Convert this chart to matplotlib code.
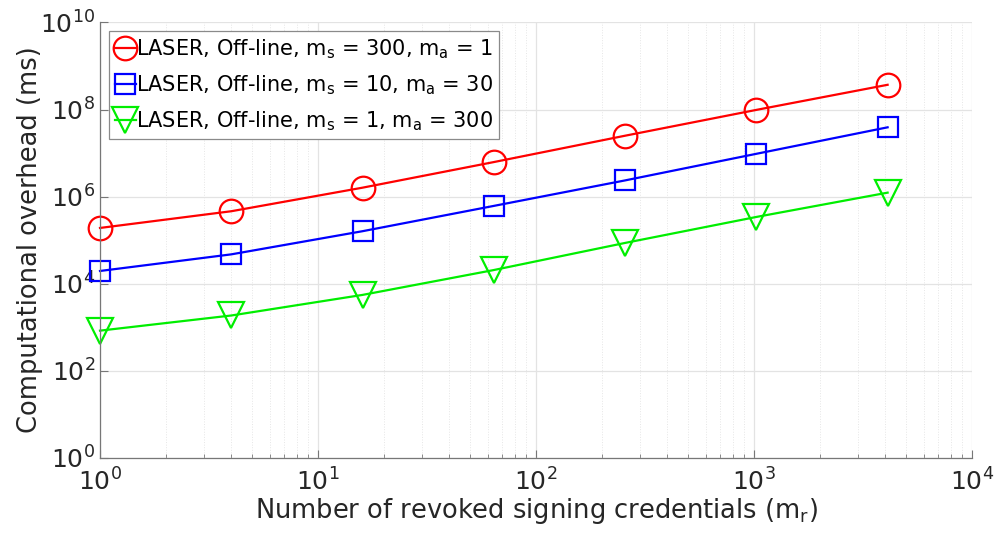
import matplotlib
matplotlib.use("Agg")
import matplotlib.pyplot as plt
from matplotlib.ticker import LogLocator, NullLocator

# revoked signing credentials (m_r)
m_r = [1, 4, 16, 64, 256, 1024, 4096]

# computational overhead (ms)
overhead_s300_a1 = [1.9e5, 4.6e5, 1.6e6, 6.2e6, 2.5e7, 9.8e7, 3.7e8]
overhead_s10_a30 = [1.95e4, 4.7e4, 1.6e5, 6.1e5, 2.35e6, 9.6e6, 3.9e7]
overhead_s1_a300 = [830, 1.85e3, 5.5e3, 2.05e4, 8.6e4, 3.4e5, 1.23e6]

labels = [
    r"LASER, Off-line, m$_\mathregular{s}$ = 300, m$_\mathregular{a}$ = 1",
    r"LASER, Off-line, m$_\mathregular{s}$ = 10, m$_\mathregular{a}$ = 30",
    r"LASER, Off-line, m$_\mathregular{s}$ = 1, m$_\mathregular{a}$ = 300",
]

plt.rcParams["font.family"] = ["DejaVu Sans"]
plt.rcParams["mathtext.default"] = "regular"

txt = "#262626"
fig = plt.figure(figsize=(9.94, 5.35), dpi=100)
ax = fig.add_axes([0.1006, 0.1445, 0.8774, 0.8135])

ax.plot(m_r, overhead_s300_a1, color="#ff0000", lw=1.6, marker="o", ms=17,
        mfc="none", mew=1.6, label=labels[0], clip_on=False)
ax.plot(m_r, overhead_s10_a30, color="#0000ff", lw=1.6, marker="s", ms=14,
        mfc="none", mew=1.6, label=labels[1], clip_on=False)
ax.plot(m_r, overhead_s1_a300, color="#00ee00", lw=1.6, marker="v", ms=19,
        mfc="none", mew=1.6, label=labels[2], clip_on=False)

ax.set_xscale("log")
ax.set_yscale("log")
ax.set_xlim(1, 1e4)
ax.set_ylim(1, 1e10)
ax.set_yticks([1e0, 1e2, 1e4, 1e6, 1e8, 1e10])
ax.yaxis.set_minor_locator(NullLocator())
ax.xaxis.set_minor_locator(LogLocator(base=10, subs=range(2, 10)))

ax.grid(True, which="major", color="#e3e3e3", lw=0.9)
ax.grid(True, which="minor", axis="x", color="#e6e6e6", lw=0.7, ls=":")
ax.set_axisbelow(True)

for side in ("top", "right"):
    ax.spines[side].set_visible(False)
for side in ("left", "bottom"):
    ax.spines[side].set_color("#777777")
    ax.spines[side].set_linewidth(0.9)

ax.tick_params(which="both", direction="in", colors="#777777", labelcolor=txt,
               labelsize=18)
ax.tick_params(which="major", length=6)
ax.tick_params(which="minor", length=3)
ax.tick_params(axis="x", pad=8)

ax.set_xlabel(r"Number of revoked signing credentials (m$_\mathregular{r}$)",
              fontsize=18.5, color=txt, labelpad=0)
ax.set_ylabel("Computational overhead (ms)", fontsize=18.5, color=txt, labelpad=-2)

leg = ax.legend(loc="upper left", bbox_to_anchor=(0.005, 0.99), fontsize=15,
                handlelength=1.0, handletextpad=0.0, borderpad=0.3,
                labelspacing=0.6, borderaxespad=0.2, fancybox=False,
                framealpha=1, edgecolor="#8a8a8a")
leg.get_frame().set_linewidth(0.9)
for t in leg.get_texts():
    t.set_color("#000000")

fig.savefig("out.png", dpi=100)
